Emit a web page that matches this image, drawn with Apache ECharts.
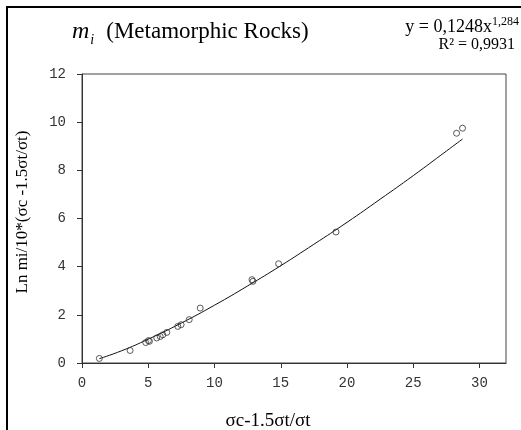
<!DOCTYPE html>
<html>
<head>
<meta charset="utf-8">
<script src="https://cdn.jsdelivr.net/npm/echarts@6/dist/echarts.min.js"></script>
<style>
html,body{margin:0;padding:0;background:#fff;}
#chart{width:521px;height:430px;}
</style>
</head>
<body>
<div id="chart"></div>
<script>
// Observed data points
var xVals = [1.31, 3.63, 4.81, 5.01, 5.09, 5.64, 5.9, 6.1, 6.4, 7.23, 7.48, 8.09, 8.92, 12.83, 12.9, 14.84, 19.17, 28.27, 28.72];
var yVals = [0.19, 0.52, 0.85, 0.93, 0.9, 1.04, 1.1, 1.17, 1.27, 1.52, 1.59, 1.8, 2.28, 3.46, 3.39, 4.12, 5.44, 9.54, 9.75];
// Trend line (power fit)
var trendX = [1.31, 3, 5, 7.5, 10, 12.5, 15, 17.5, 20, 22.5, 25, 27.5, 28.72];
var trendY = [0.18, 0.51, 0.99, 1.66, 2.40, 3.20, 4.04, 4.93, 5.84, 6.80, 7.78, 8.80, 9.30];
// Axis ticks
var xTicks = [0, 5, 10, 15, 20, 25, 30];
var yTicks = [0, 2, 4, 6, 8, 10, 12];
// Texts
var titleMain = '(Metamorphic Rocks)';
var eqText = 'y = 0,1248x';
var eqExp = '1,284';
var r2Text = 'R² = 0,9931';
var xName = 'σc-1.5σt/σt';
var yName = 'Ln mi/10*(σc -1.5σt/σt)';

var pts = xVals.map(function (x, i) { return [x, yVals[i]]; });
var trend = trendX.map(function (x, i) { return [x, trendY[i]]; });

var serif = '"Liberation Serif", "DejaVu Serif", serif';
var mono = '"Liberation Mono", "DejaVu Sans Mono", monospace';

var chart = echarts.init(document.getElementById('chart'), null, {renderer: 'canvas'});
chart.setOption({
  backgroundColor: '#fff',
  animation: false,
  grid: {
    left: 82, right: 15, top: 74, bottom: 67,
    show: true, borderColor: '#444', borderWidth: 1, backgroundColor: '#fff'
  },
  xAxis: {
    type: 'value', min: 0, max: 32, interval: 5,
    splitLine: {show: false},
    axisLine: {show: true, lineStyle: {color: '#333', width: 1}},
    axisTick: {show: true, inside: false, length: 5, lineStyle: {color: '#333'}, customValues: xTicks},
    axisLabel: {margin: 13, color: '#333', fontFamily: mono, fontSize: 14, customValues: xTicks}
  },
  yAxis: {
    type: 'value', min: 0, max: 12, interval: 2,
    splitLine: {show: false},
    axisLine: {show: true, lineStyle: {color: '#333', width: 1}},
    axisTick: {show: true, inside: false, length: 5, lineStyle: {color: '#333'}, customValues: yTicks},
    axisLabel: {margin: 16, color: '#333', fontFamily: mono, fontSize: 14, customValues: yTicks}
  },
  series: [
    {
      type: 'line', data: trend, smooth: true, showSymbol: false, symbol: 'none',
      lineStyle: {color: '#111', width: 1}, z: 2, silent: true
    },
    {
      type: 'scatter', data: pts, symbol: 'circle', symbolSize: 6,
      itemStyle: {color: 'rgba(255,255,255,0)', borderColor: '#333', borderWidth: 1}, z: 3
    }
  ],
  graphic: [
    {
      type: 'rect', silent: true, z: 100,
      shape: {x: 7, y: 7, width: 800, height: 800},
      style: {fill: 'none', stroke: '#000', lineWidth: 2}
    },
    {
      type: 'text', x: 72, y: 32, z: 100,
      style: {
        text: '{m|m}{s|i}{t|' + titleMain + '}',
        verticalAlign: 'middle', align: 'left',
        rich: {
          m: {fontFamily: serif, fontStyle: 'italic', fontSize: 24, lineHeight: 30, fill: '#000'},
          s: {fontFamily: serif, fontStyle: 'italic', fontSize: 14, lineHeight: 30, verticalAlign: 'bottom', fill: '#000', padding: [0, 12, 0, 1]},
          t: {fontFamily: serif, fontSize: 23, lineHeight: 30, fill: '#000'}
        }
      }
    },
    {
      type: 'text', x: 519, y: 27, z: 100,
      style: {
        text: '{a|' + eqText + '}{b|' + eqExp + '}',
        align: 'right', verticalAlign: 'middle',
        rich: {
          a: {fontFamily: serif, fontSize: 18, lineHeight: 22, fill: '#000'},
          b: {fontFamily: serif, fontSize: 12, lineHeight: 22, verticalAlign: 'top', fill: '#000'}
        }
      }
    },
    {
      type: 'text', x: 515, y: 45, z: 100,
      style: {text: r2Text, align: 'right', verticalAlign: 'middle', font: '16px ' + serif, fill: '#000'}
    },
    {
      type: 'text', x: 268, y: 421, z: 100,
      style: {text: xName, align: 'center', verticalAlign: 'middle', font: '19px ' + serif, fill: '#000'}
    },
    {
      type: 'text', x: 23, y: 212, rotation: Math.PI / 2, z: 100,
      style: {text: yName, align: 'center', verticalAlign: 'middle', font: '17px ' + serif, fill: '#000'}
    }
  ]
});
</script>
</body>
</html>
